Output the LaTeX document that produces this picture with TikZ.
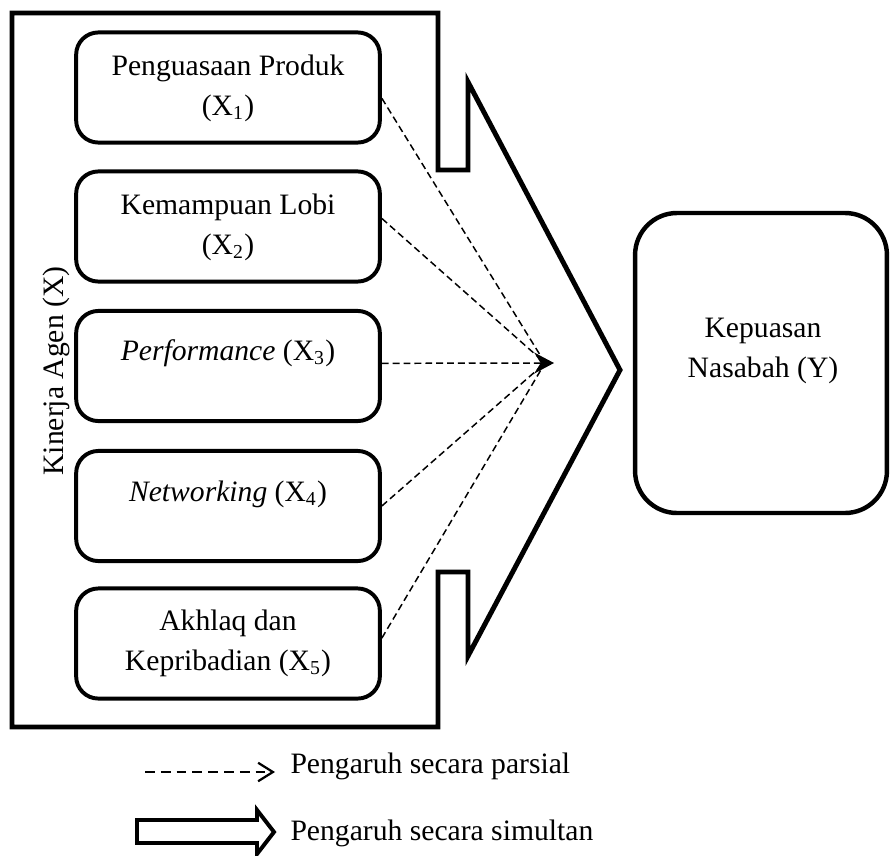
\documentclass[tikz,border=0pt]{standalone}
\usepackage{fontspec}
\setmainfont{Liberation Serif}
\usetikzlibrary{arrows.meta}

\begin{document}
\begin{tikzpicture}[
    x=0.405pt,
    y=-0.405pt,
    every node/.style={font=\fontsize{12}{16.2}\selectfont, inner sep=0pt},
    kotak/.style={
        draw=black,
        line width=1.6pt,
        rounded corners=9pt,
        minimum width=123pt,
        minimum height=44.6pt
    },
    teks/.style={
        align=center
    },
    parsial/.style={
        draw=black,
        line width=0.6pt,
        dash pattern=on 2.8pt off 1.6pt
    }
]

\useasboundingbox (0,0) rectangle (890,855);

% ============================================================
% KINERJA AGEN (X)
% ============================================================

\draw[line width=2pt]
(12,13) -- (438,13) -- (438,170) -- (468,170) -- (468,82) --
(620,370) --
(468,656) -- (468,572) -- (438,572) -- (438,727) -- (12,727) -- cycle;

\node[
    rotate=90,
    anchor=base
] (kinerja) at (63,371)
{Kinerja Agen (X)};

% Indikator
\node[kotak] (x1) at (228,87.5) {};
\node[teks] (t1) at (228,88)
{Penguasaan Produk\\(X\textsubscript{1})};

\node[kotak] (x2) at (228,226.5) {};
\node[teks] (t2) at (228,227)
{Kemampuan Lobi\\(X\textsubscript{2})};

\node[kotak] (x3) at (228,366) {};
\node[teks, anchor=base] (t3) at (228,360)
{\textit{Performance} (X\textsubscript{3})};

\node[kotak] (x4) at (228,506) {};
\node[teks, anchor=base] (t4) at (228,501)
{\textit{Networking} (X\textsubscript{4})};

\node[kotak] (x5) at (228,643.5) {};
\node[teks] (t5) at (228,643)
{Akhlaq dan\\Kepribadian (X\textsubscript{5})};

% ============================================================
% KEPUASAN NASABAH (Y)
% ============================================================

\node[
    kotak,
    line width=1.8pt,
    rounded corners=17pt,
    minimum width=102pt,
    minimum height=121.5pt
] (y) at (761,363) {};

\node[teks] (ty) at (763,351)
{Kepuasan\\Nasabah (Y)};

% ============================================================
% PENGARUH PARSIAL
% ============================================================

\coordinate (hub) at (545,363);
\coordinate (ujung) at (554,363);

\draw[parsial] (x1.-4) -- (hub);
\draw[parsial] (x2.3) -- (hub);
\draw[
    parsial,
    -{Stealth[length=8pt, width=8.5pt]}
] (x3.1) -- (ujung);
\draw[parsial] (x4.east) -- (hub);
\draw[parsial] (x5.2) -- (hub);

% ============================================================
% KETERANGAN
% ============================================================

\coordinate (lgA) at (145,772);
\coordinate (lgB) at (275,772);

\draw[
    line width=0.9pt,
    dash pattern=on 4pt off 2.4pt,
    -{Straight Barb[length=6pt, width=7.5pt]}
] (lgA) -- (lgB);

\node[anchor=base west] (lg1) at (290,773)
{Pengaruh secara parsial};

\draw[line width=1.6pt]
(137,820) -- (257,820) -- (257,810) -- (274,832) --
(257,854) -- (257,843) -- (137,843) -- cycle;

\node[anchor=base west] (lg2) at (290,840)
{Pengaruh secara simultan};

\end{tikzpicture}
\end{document}
